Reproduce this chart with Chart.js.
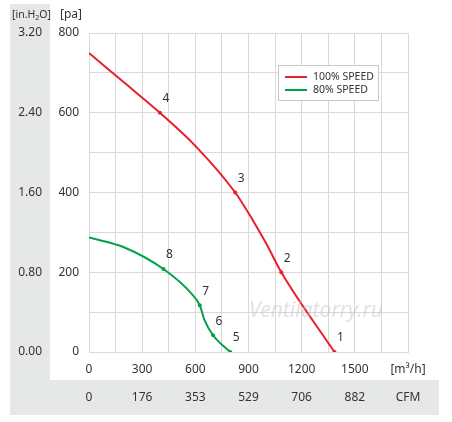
<!DOCTYPE html>
<html lang="en">
<head>
    <meta charset="UTF-8">
    <title>Fan Curve</title>
    <script src="https://cdn.jsdelivr.net/npm/chart.js"></script>
    <style>
        html, body { margin: 0; padding: 0; background: #fff; }
        #wrap { width: 452px; height: 422px; position: relative; }
    </style>
</head>
<body>
    <div id="wrap"><canvas id="fanChart" width="452" height="422"></canvas></div>

    <script>
        // airflow in m3/h, pressure in pa
        const fullFlow = [0, 200, 400, 600, 825, 925, 1000, 1085, 1385];
        const fullPressure = [750, 675, 600, 517, 400, 330, 272, 200, 0];
        const fullMarks = ['', '', '4', '', '3', '', '', '2', '1'];

        const lowFlow = [0, 200, 420, 577, 625, 652, 700, 797];
        const lowPressure = [287, 262, 208, 147, 117, 80, 42, 0];
        const lowMarks = ['', '', '8', '', '7', '', '6', '5'];

        const flowTicks = [0, 300, 600, 900, 1200, 1500];
        const cfmLabels = ['0', '176', '353', '529', '706', '882'];
        const paTicks = [0, 200, 400, 600, 800];
        const inchLabels = ['0.00', '0.80', '1.60', '2.40', '3.20'];

        const seriesNames = ['100% SPEED', '80% SPEED'];
        const seriesColors = ['#e8202a', '#00a14b'];

        const FONT = "'Noto Sans', 'Open Sans', sans-serif";
        const GREY = '#e6e7e7';
        const TEXT = '#333333';

        function toPoints(xs, ys) {
            return xs.map((x, i) => ({ x: x, y: ys[i] }));
        }

        // grey panels behind the chart
        const panelPlugin = {
            id: 'panels',
            beforeDraw(chart) {
                const ctx = chart.ctx;
                ctx.save();
                ctx.fillStyle = GREY;
                ctx.fillRect(10, 4, 40, 411);
                ctx.fillRect(10, 380, 429, 35);
                ctx.restore();
            }
        };

        // unit headers, inch column, CFM row, point numbers, legend
        const extrasPlugin = {
            id: 'extras',
            afterDraw(chart) {
                const ctx = chart.ctx;
                const xs = chart.scales.x;
                const ys = chart.scales.y;
                ctx.save();
                ctx.fillStyle = TEXT;
                ctx.textBaseline = 'middle';

                // headers
                ctx.font = '12px ' + FONT;
                ctx.textAlign = 'center';
                ctx.fillText('[pa]', 71, 15);
                ctx.font = '10.5px ' + FONT;
                ctx.textAlign = 'left';
                ctx.fillText('[in.H', 12, 15);
                let w = ctx.measureText('[in.H').width;
                ctx.font = '7px ' + FONT;
                ctx.fillText('2', 12 + w, 18);
                let w2 = ctx.measureText('2').width;
                ctx.font = '10.5px ' + FONT;
                ctx.fillText('O]', 12 + w + w2, 15);

                // inch of water column
                ctx.font = '12px ' + FONT;
                ctx.textAlign = 'right';
                paTicks.forEach((v, i) => {
                    ctx.fillText(inchLabels[i], 42, ys.getPixelForValue(v));
                });

                // CFM row
                ctx.textAlign = 'center';
                flowTicks.forEach((v, i) => {
                    ctx.fillText(cfmLabels[i], xs.getPixelForValue(v), 398);
                });
                ctx.fillText('CFM', xs.getPixelForValue(1800), 398);

                // point numbers
                const marks = [fullMarks, lowMarks];
                chart.data.datasets.forEach((ds, di) => {
                    ds.data.forEach((p, i) => {
                        const m = marks[di][i];
                        if (!m) return;
                        ctx.fillText(m, xs.getPixelForValue(p.x) + 6, ys.getPixelForValue(p.y) - 14);
                    });
                });

                // watermark
                ctx.font = 'italic 21px ' + FONT;
                ctx.fillStyle = 'rgba(190,190,190,0.45)';
                ctx.fillText('Ventilatorry.ru', 316, 311);

                // legend
                ctx.fillStyle = '#fff';
                ctx.fillRect(278.5, 65.5, 100, 35);
                ctx.strokeStyle = '#c8c8c8';
                ctx.lineWidth = 1;
                ctx.strokeRect(278.5, 65.5, 100, 35);
                ctx.font = '10.5px ' + FONT;
                ctx.textAlign = 'left';
                seriesNames.forEach((name, i) => {
                    const ly = 77 + i * 13;
                    ctx.strokeStyle = seriesColors[i];
                    ctx.lineWidth = 2;
                    ctx.beginPath();
                    ctx.moveTo(285, ly);
                    ctx.lineTo(307, ly);
                    ctx.stroke();
                    ctx.fillStyle = TEXT;
                    ctx.fillText(name, 313, ly);
                });
                ctx.restore();
            }
        };

        function makeDataset(xs, ys, marks, idx) {
            return {
                label: seriesNames[idx],
                data: toPoints(xs, ys),
                borderColor: seriesColors[idx],
                backgroundColor: seriesColors[idx],
                borderWidth: 2,
                cubicInterpolationMode: 'monotone',
                pointRadius: marks.map(m => m ? 2 : 0),
                pointBorderWidth: 0,
                fill: false
            };
        }

        const config = {
            type: 'line',
            data: {
                datasets: [
                    makeDataset(fullFlow, fullPressure, fullMarks, 0),
                    makeDataset(lowFlow, lowPressure, lowMarks, 1)
                ]
            },
            options: {
                responsive: false,
                animation: false,
                layout: { padding: { top: 33, right: 44, left: 0, bottom: 0 } },
                plugins: { legend: { display: false }, tooltip: { enabled: false } },
                scales: {
                    x: {
                        type: 'linear',
                        min: 0,
                        max: 1800,
                        afterFit: s => { s.height = 70; },
                        afterBuildTicks: s => {
                            s.ticks = [];
                            for (let v = 0; v <= 1800; v += 150) s.ticks.push({ value: v });
                        },
                        grid: { color: '#d9d9d9', drawTicks: false },
                        border: { color: '#d9d9d9' },
                        ticks: {
                            padding: 10,
                            maxRotation: 0,
                            autoSkip: false,
                            color: TEXT,
                            font: { family: FONT, size: 12 },
                            callback: v => {
                                if (v === 1800) return '[m³/h]';
                                return flowTicks.includes(v) ? String(v) : '';
                            }
                        }
                    },
                    y: {
                        type: 'linear',
                        min: 0,
                        max: 800,
                        afterFit: s => { s.width = 89; },
                        afterBuildTicks: s => {
                            s.ticks = [];
                            for (let v = 0; v <= 800; v += 100) s.ticks.push({ value: v });
                        },
                        grid: { color: '#d9d9d9', drawTicks: false },
                        border: { color: '#d9d9d9' },
                        ticks: {
                            padding: 10,
                            autoSkip: false,
                            color: TEXT,
                            font: { family: FONT, size: 12 },
                            callback: v => paTicks.includes(v) ? String(v) : ''
                        }
                    }
                }
            },
            plugins: [panelPlugin, extrasPlugin]
        };

        new Chart(document.getElementById('fanChart').getContext('2d'), config);
    </script>
</body>
</html>
